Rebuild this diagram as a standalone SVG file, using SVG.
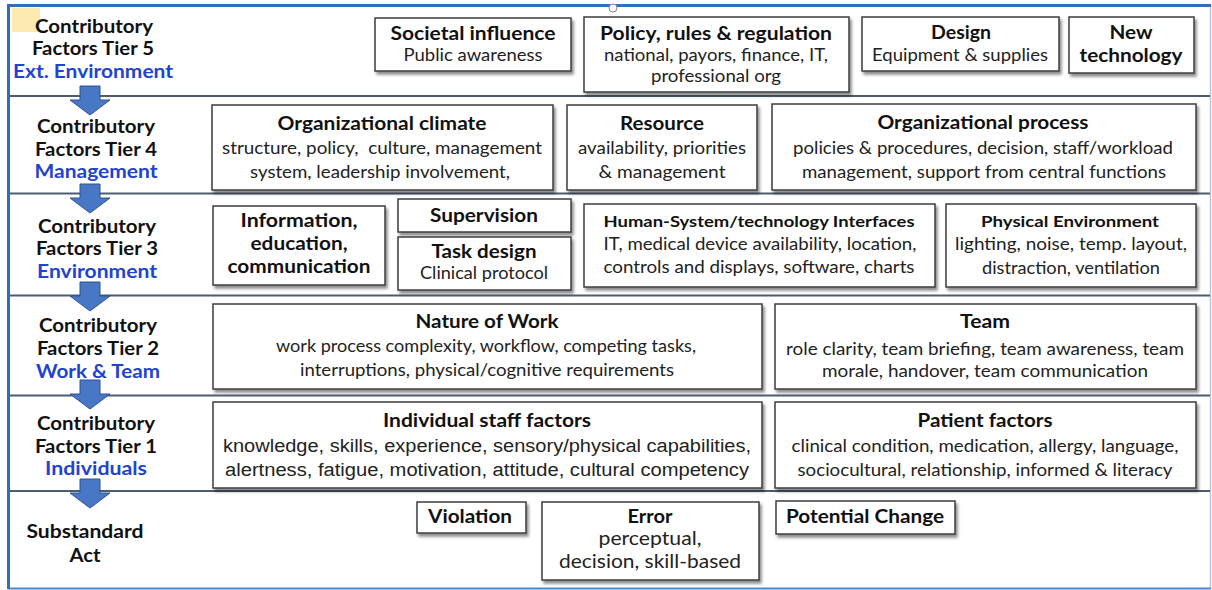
<svg xmlns="http://www.w3.org/2000/svg" width="1212" height="590" viewBox="0 0 1212 590">
<defs>
<filter id="sh" x="-10%" y="-20%" width="120%" height="150%">
<feDropShadow dx="2" dy="3" stdDeviation="1.5" flood-color="#000" flood-opacity="0.45"/>
</filter>
<path id="arr" d="M-10,0 H10 V14 H20 L0,29 L-20,14 H-10 Z"/>
</defs>
<style>
text{font-family:Lato,"Open Sans","Liberation Sans",sans-serif;text-anchor:middle}
.t{font-weight:700;font-size:18px;fill:#111}
.s{font-weight:400;font-size:17px;fill:#222}
.a{font-family:"Liberation Sans",Arial,sans-serif;font-size:18px;fill:#222}
.l{font-weight:700;font-size:19px;fill:#111}
.b{font-weight:700;font-size:19px;fill:#2242d2}
.box{fill:#fff;stroke:#3c3c3c;stroke-width:1.5;filter:url(#sh)}
.sep{stroke:#4d5d70;stroke-width:2}
.ar{fill:#4877c6;stroke:#2f528f;stroke-width:1}
</style>
<rect width="1212" height="590" fill="#fff"/>
<g id="frame">
<line x1="1210.5" y1="5" x2="1210.5" y2="588" stroke="#b8c8dc" stroke-width="1.5"/>
<line x1="8" y1="588.5" x2="1211" y2="588.5" stroke="#4a86c8" stroke-width="2"/>
<line x1="7" y1="5.5" x2="1211" y2="5.5" stroke="#2e6fbd" stroke-width="3"/>
<line x1="8.5" y1="4" x2="8.5" y2="589" stroke="#2e6fbd" stroke-width="3"/>
<line class="sep" x1="10" y1="96" x2="1210" y2="96"/>
<line class="sep" x1="10" y1="193.5" x2="1210" y2="193.5"/>
<line class="sep" x1="10" y1="295.5" x2="1210" y2="295.5"/>
<line class="sep" x1="10" y1="395.5" x2="1210" y2="395.5"/>
<line class="sep" x1="10" y1="491" x2="1210" y2="491"/>
<rect x="12" y="8" width="28" height="24" fill="#fbe6a2" opacity="0.85"/>
<circle cx="613" cy="8" r="4" fill="#fff" stroke="#888" stroke-width="1"/>
</g>
<g id="connectors">
<use href="#arr" class="ar" x="90" y="86"/>
<use href="#arr" class="ar" x="90" y="184"/>
<use href="#arr" class="ar" x="90" y="282"/>
<use href="#arr" class="ar" x="90" y="380"/>
<use href="#arr" class="ar" x="90" y="479"/>
</g>
<g id="tier5-label">
<text class="l" x="94" y="33" textLength="118" lengthAdjust="spacingAndGlyphs">Contributory</text>
<text class="l" x="93" y="55" textLength="122" lengthAdjust="spacingAndGlyphs">Factors Tier 5</text>
<text class="b" x="93" y="78" textLength="160" lengthAdjust="spacingAndGlyphs">Ext. Environment</text>
</g>
<g id="tier4-label">
<text class="l" x="96" y="133" textLength="118" lengthAdjust="spacingAndGlyphs">Contributory</text>
<text class="l" x="96" y="156" textLength="122" lengthAdjust="spacingAndGlyphs">Factors Tier 4</text>
<text class="b" x="96" y="178" textLength="123" lengthAdjust="spacingAndGlyphs">Management</text>
</g>
<g id="tier3-label">
<text class="l" x="97" y="233" textLength="118" lengthAdjust="spacingAndGlyphs">Contributory</text>
<text class="l" x="97" y="255" textLength="122" lengthAdjust="spacingAndGlyphs">Factors Tier 3</text>
<text class="b" x="97" y="278" textLength="120" lengthAdjust="spacingAndGlyphs">Environment</text>
</g>
<g id="tier2-label">
<text class="l" x="98" y="332" textLength="118" lengthAdjust="spacingAndGlyphs">Contributory</text>
<text class="l" x="98" y="355" textLength="122" lengthAdjust="spacingAndGlyphs">Factors Tier 2</text>
<text class="b" x="98" y="378" textLength="124" lengthAdjust="spacingAndGlyphs">Work &amp; Team</text>
</g>
<g id="tier1-label">
<text class="l" x="96" y="430" textLength="118" lengthAdjust="spacingAndGlyphs">Contributory</text>
<text class="l" x="96" y="453" textLength="122" lengthAdjust="spacingAndGlyphs">Factors Tier 1</text>
<text class="b" x="96" y="475" textLength="102" lengthAdjust="spacingAndGlyphs">Individuals</text>
</g>
<g id="substandard-label">
<text class="l" x="85" y="538" textLength="117" lengthAdjust="spacingAndGlyphs">Substandard</text>
<text class="l" x="85" y="562" textLength="31" lengthAdjust="spacingAndGlyphs">Act</text>
</g>
<g id="societal">
<rect class="box" x="375" y="18" width="196" height="53"/>
<text class="t" x="473" y="40" textLength="165" lengthAdjust="spacingAndGlyphs">Societal influence</text>
<text class="s" x="473" y="61" textLength="139" lengthAdjust="spacingAndGlyphs">Public awareness</text>
</g>
<g id="policy">
<rect class="box" x="584" y="17" width="265" height="75"/>
<text class="t" x="716" y="40" textLength="232" lengthAdjust="spacingAndGlyphs">Policy, rules &amp; regulation</text>
<text class="s" x="716" y="61" textLength="224" lengthAdjust="spacingAndGlyphs">national, payors, finance, IT,</text>
<text class="s" x="716" y="82" textLength="130" lengthAdjust="spacingAndGlyphs">professional org</text>
</g>
<g id="design">
<rect class="box" x="862" y="17" width="197" height="54"/>
<text class="t" x="961" y="39" textLength="60" lengthAdjust="spacingAndGlyphs">Design</text>
<text class="s" x="960" y="61" textLength="176" lengthAdjust="spacingAndGlyphs">Equipment &amp; supplies</text>
</g>
<g id="newtech">
<rect class="box" x="1069" y="17" width="125" height="56"/>
<text class="t" x="1131" y="39" textLength="43" lengthAdjust="spacingAndGlyphs" style="font-size:19px">New</text>
<text class="t" x="1131" y="62" textLength="103" lengthAdjust="spacingAndGlyphs" style="font-size:19px">technology</text>
</g>
<g id="orgclimate">
<rect class="box" x="212" y="105" width="341" height="85"/>
<text class="t" x="382" y="130" textLength="209" lengthAdjust="spacingAndGlyphs">Organizational climate</text>
<text class="s" x="382" y="154" textLength="320" lengthAdjust="spacingAndGlyphs">structure, policy,&#160; culture, management</text>
<text class="s" x="380" y="178" textLength="260" lengthAdjust="spacingAndGlyphs">system, leadership involvement,</text>
</g>
<g id="resource">
<rect class="box" x="567" y="105" width="190" height="85"/>
<text class="t" x="662" y="130" textLength="84" lengthAdjust="spacingAndGlyphs">Resource</text>
<text class="s" x="662" y="154" textLength="168" lengthAdjust="spacingAndGlyphs">availability, priorities</text>
<text class="s" x="662" y="178" textLength="127" lengthAdjust="spacingAndGlyphs">&amp; management</text>
</g>
<g id="orgprocess">
<rect class="box" x="772" y="104" width="424" height="86"/>
<text class="t" x="983" y="129" textLength="211" lengthAdjust="spacingAndGlyphs">Organizational process</text>
<text class="s" x="983" y="154" textLength="380" lengthAdjust="spacingAndGlyphs">policies &amp; procedures, decision, staff/workload</text>
<text class="s" x="984" y="178" textLength="364" lengthAdjust="spacingAndGlyphs">management, support from central functions</text>
</g>
<g id="information">
<rect class="box" x="213" y="206" width="172" height="79"/>
<text class="t" x="299" y="227" textLength="117" lengthAdjust="spacingAndGlyphs">Information,</text>
<text class="t" x="299" y="250" textLength="97" lengthAdjust="spacingAndGlyphs">education,</text>
<text class="t" x="299" y="273" textLength="143" lengthAdjust="spacingAndGlyphs">communication</text>
</g>
<g id="supervision">
<rect class="box" x="398" y="199" width="173" height="33"/>
<text class="t" x="484" y="222" textLength="108" lengthAdjust="spacingAndGlyphs">Supervision</text>
</g>
<g id="taskdesign">
<rect class="box" x="398" y="237" width="173" height="53"/>
<text class="t" x="484" y="258" textLength="105" lengthAdjust="spacingAndGlyphs">Task design</text>
<text class="s" x="484" y="279" textLength="128" lengthAdjust="spacingAndGlyphs">Clinical protocol</text>
</g>
<g id="hsi">
<rect class="box" x="584" y="204" width="351" height="83"/>
<text class="t" x="759" y="227" textLength="311" lengthAdjust="spacingAndGlyphs" style="font-size:16px">Human-System/technology Interfaces</text>
<text class="s" x="760" y="250" textLength="313" lengthAdjust="spacingAndGlyphs">IT, medical device availability, location,</text>
<text class="s" x="759" y="273" textLength="311" lengthAdjust="spacingAndGlyphs">controls and displays, software, charts</text>
</g>
<g id="physenv">
<rect class="box" x="946" y="204" width="250" height="83"/>
<text class="t" x="1070" y="227" textLength="178" lengthAdjust="spacingAndGlyphs" style="font-size:16px">Physical Environment</text>
<text class="s" x="1071" y="250" textLength="232" lengthAdjust="spacingAndGlyphs">lighting, noise, temp. layout,</text>
<text class="s" x="1071" y="274" textLength="178" lengthAdjust="spacingAndGlyphs">distraction, ventilation</text>
</g>
<g id="nature">
<rect class="box" x="213" y="304" width="549" height="85"/>
<text class="t" x="487" y="328" textLength="143" lengthAdjust="spacingAndGlyphs">Nature of Work</text>
<text class="s" x="486" y="352" textLength="420" lengthAdjust="spacingAndGlyphs">work process complexity, workflow, competing tasks,</text>
<text class="s" x="487" y="376" textLength="374" lengthAdjust="spacingAndGlyphs">interruptions, physical/cognitive requirements</text>
</g>
<g id="team">
<rect class="box" x="775" y="304" width="421" height="85"/>
<text class="t" x="985" y="328" textLength="50" lengthAdjust="spacingAndGlyphs">Team</text>
<text class="s" x="985" y="355" textLength="398" lengthAdjust="spacingAndGlyphs">role clarity, team briefing, team awareness, team</text>
<text class="s" x="985" y="377" textLength="326" lengthAdjust="spacingAndGlyphs">morale, handover, team communication</text>
</g>
<g id="individual">
<rect class="box" x="213" y="402" width="549" height="86"/>
<text class="t" x="487" y="427" textLength="208" lengthAdjust="spacingAndGlyphs">Individual staff factors</text>
<text class="a" x="487" y="452" textLength="528" lengthAdjust="spacingAndGlyphs">knowledge, skills, experience, sensory/physical capabilities,</text>
<text class="a" x="487" y="476" textLength="524" lengthAdjust="spacingAndGlyphs">alertness, fatigue, motivation, attitude, cultural competency</text>
</g>
<g id="patient">
<rect class="box" x="775" y="402" width="421" height="86"/>
<text class="t" x="985" y="427" textLength="135" lengthAdjust="spacingAndGlyphs">Patient factors</text>
<text class="s" x="985" y="452" textLength="387" lengthAdjust="spacingAndGlyphs">clinical condition, medication, allergy, language,</text>
<text class="s" x="985" y="476" textLength="375" lengthAdjust="spacingAndGlyphs">sociocultural, relationship, informed &amp; literacy</text>
</g>
<g id="violation">
<rect class="box" x="417" y="502" width="109" height="31"/>
<text class="t" x="470" y="523" textLength="84" lengthAdjust="spacingAndGlyphs">Violation</text>
</g>
<g id="error">
<rect class="box" x="542" y="502" width="217" height="78"/>
<text class="t" x="650" y="523" textLength="45" lengthAdjust="spacingAndGlyphs">Error</text>
<text class="s" x="650" y="545" textLength="103" lengthAdjust="spacingAndGlyphs" style="font-size:19px">perceptual,</text>
<text class="s" x="650" y="568" textLength="182" lengthAdjust="spacingAndGlyphs" style="font-size:19px">decision, skill-based</text>
</g>
<g id="potential">
<rect class="box" x="776" y="501" width="179" height="33"/>
<text class="t" x="865" y="523" textLength="158" lengthAdjust="spacingAndGlyphs">Potential Change</text>
</g>
</svg>
